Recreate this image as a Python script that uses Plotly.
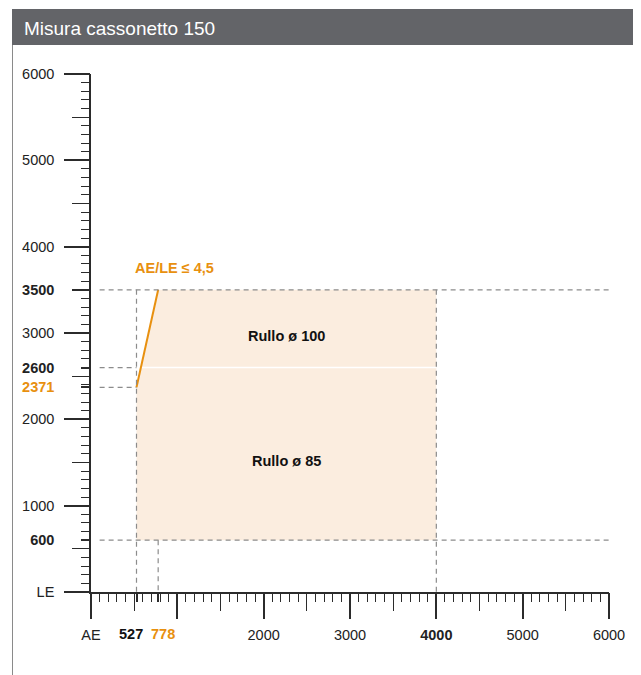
import plotly.graph_objects as go

# ---------------- data ----------------
title_text = "Misura cassonetto 150"
ae_min, ae_max = 527, 4000          # AE range (x)
le_min, le_max = 600, 3500          # LE range (y)
le_split = 2600                      # roller change (ø85 -> ø100)
ratio = 4.5                          # AE/LE limit
le_at_ae_min = 2371                  # LE where the ratio line meets AE min
ae_at_le_max = 778                   # AE where the ratio line meets LE max
axis_max = 6000

x_tick_vals = [0, 2000, 3000, 4000, 5000, 6000]
x_tick_text = ["AE", "2000", "3000", "<b>4000</b>", "5000", "6000"]
y_tick_vals = [0, 600, 1000, 2000, 2371, 2600, 3000, 3500, 4000, 5000, 6000]
y_tick_text = ["LE", "<b>600</b>", "1000", "2000",
               "<b><span style='color:#E8900F'>2371</span></b>", "<b>2600</b>",
               "3000", "<b>3500</b>", "4000", "5000", "6000"]
region_labels = ["Rullo ø 100", "Rullo ø 85"]
region_label_y = [2960, 1520]
ratio_label = "AE/LE ≤ 4,5"

# ---------------- styles ----------------
OFF = 8                      # page body margin in the viewer
W, H = 641 - OFF, 675 - OFF
ORANGE = "#E8900F"
FILL = "#FBEDDF"
DASH = "#8C8C8C"
AX = "#2b2b2b"
FONT = "Liberation Sans, Arial, sans-serif"
FS = 14.5

def px_x(p):
    return (p - OFF) / W

def px_y(p):
    return 1 - (p - OFF) / H

x_dom = [px_x(91), px_x(609)]
y_dom = [px_y(592), px_y(74)]

fig = go.Figure()

# shaded feasible region
ae_split = le_split / ratio
fig.add_trace(go.Scatter(
    x=[ae_min, ae_max, ae_max, ae_at_le_max, ae_min, ae_min],
    y=[le_min, le_min, le_max, le_max, le_at_ae_min, le_min],
    fill="toself", fillcolor=FILL, mode="lines", line=dict(width=0),
    hoverinfo="skip", showlegend=False))
# white separator
fig.add_trace(go.Scatter(
    x=[ae_split, ae_max], y=[le_split, le_split], mode="lines",
    line=dict(color="white", width=1.5), hoverinfo="skip", showlegend=False))
# ratio line
fig.add_trace(go.Scatter(
    x=[ae_min, ae_at_le_max], y=[le_at_ae_min, le_max], mode="lines",
    line=dict(color=ORANGE, width=2), hoverinfo="skip", showlegend=False))

# empty traces to activate overlay tick axes
for i in range(2, 6):
    fig.add_trace(go.Scatter(x=[None], y=[None], xaxis=f"x{i}", yaxis=f"y{i}",
                             showlegend=False, hoverinfo="skip"))

# dashed guides
guide_start = 100
dash_style = dict(color=DASH, width=1.2, dash="5px,4px")
shapes = []
for yv, x1 in [(le_max, axis_max), (le_min, axis_max), (le_split, ae_min), (le_at_ae_min, ae_min)]:
    shapes.append(dict(type="line", xref="x", yref="y", x0=guide_start, x1=x1, y0=yv, y1=yv, line=dash_style, layer="above"))
for xv, y0 in [(ae_min, le_max), (ae_max, le_max), (ae_at_le_max, le_min)]:
    shapes.append(dict(type="line", xref="x", yref="y", x0=xv, x1=xv, y0=y0, y1=0, line=dash_style, layer="above"))

# header and frame
shapes.append(dict(type="rect", xref="paper", yref="paper", x0=px_x(12), x1=1, y0=px_y(45), y1=px_y(9),
                   fillcolor="#636468", line=dict(width=0), layer="below"))
shapes.append(dict(type="line", xref="paper", yref="paper", x0=px_x(12.5), x1=px_x(12.5), y0=px_y(45), y1=0,
                   line=dict(color="#8a8a8a", width=1)))
shapes.append(dict(type="line", xref="paper", yref="paper", x0=px_x(638.5), x1=px_x(638.5), y0=px_y(45), y1=0,
                   line=dict(color="#8a8a8a", width=1)))

annotations = [
    dict(xref="paper", yref="paper", x=px_x(22), y=px_y(28), xanchor="left", yanchor="middle",
         text=title_text, showarrow=False, font=dict(family=FONT, size=19, color="white")),
    dict(xref="x", yref="y", x=(ae_min + ae_max) / 2, y=region_label_y[0], text=f"<b>{region_labels[0]}</b>",
         showarrow=False, font=dict(family=FONT, size=FS, color="#111")),
    dict(xref="x", yref="y", x=(ae_min + ae_max) / 2, y=region_label_y[1], text=f"<b>{region_labels[1]}</b>",
         showarrow=False, font=dict(family=FONT, size=FS, color="#111")),
    dict(xref="x", yref="y", x=967, y=3753, text=f"<b>{ratio_label}</b>",
         showarrow=False, font=dict(family=FONT, size=FS, color=ORANGE)),
    dict(xref="x", yref="y", x=ae_min, y=0, yshift=-42, xshift=-6, text=f"<b>{ae_min}</b>",
         showarrow=False, font=dict(family=FONT, size=FS, color="#111")),
    dict(xref="x", yref="y", x=ae_at_le_max, y=0, yshift=-42, xshift=5, text=f"<b>{ae_at_le_max}</b>",
         showarrow=False, font=dict(family=FONT, size=FS, color=ORANGE)),
]

common = dict(showgrid=False, zeroline=False, fixedrange=True, range=[0, axis_max], automargin=False)
tickfont = dict(family=FONT, size=FS, color="#222")

layout = dict(
    template="none",
    width=W, height=H, margin=dict(l=0, r=0, t=0, b=0, pad=0, autoexpand=False),
    paper_bgcolor="white", plot_bgcolor="rgba(0,0,0,0)",
    font=dict(family=FONT),
    shapes=shapes, annotations=annotations, showlegend=False,
    xaxis=dict(domain=x_dom, anchor="y", showline=True, linecolor=AX, linewidth=1.5,
               tickmode="array", tickvals=x_tick_vals, ticktext=x_tick_text,
               ticks="outside", ticklen=26, tickcolor="rgba(0,0,0,0)", ticklabelstandoff=3,
               tickfont=tickfont, **common),
    yaxis=dict(domain=y_dom, anchor="x", showline=True, linecolor=AX, linewidth=1.5,
               tickmode="array", tickvals=y_tick_vals, ticktext=y_tick_text,
               ticks="outside", ticklen=26, tickcolor="rgba(0,0,0,0)", ticklabelstandoff=6,
               tickfont=tickfont, **common),
    # major 1000 + minor 100
    xaxis2=dict(overlaying="x", anchor="y", side="bottom", showticklabels=False,
                tickmode="linear", tick0=0, dtick=1000, ticks="outside", ticklen=26, tickwidth=1.5, tickcolor=AX,
                minor=dict(tickmode="linear", tick0=0, dtick=100, ticks="outside", ticklen=9, tickwidth=1.2, tickcolor=AX),
                **common),
    yaxis2=dict(overlaying="y", anchor="x", side="left", showticklabels=False,
                tickmode="linear", tick0=0, dtick=1000, ticks="outside", ticklen=26, tickwidth=1.5, tickcolor=AX,
                minor=dict(tickmode="linear", tick0=0, dtick=100, ticks="outside", ticklen=9, tickwidth=1.2, tickcolor=AX),
                **common),
    # 500 ticks
    xaxis3=dict(overlaying="x", anchor="y", side="bottom", showticklabels=False,
                tickmode="linear", tick0=500, dtick=1000, ticks="outside", ticklen=18, tickwidth=1.3, tickcolor=AX,
                **common),
    yaxis3=dict(overlaying="y", anchor="x", side="left", showticklabels=False,
                tickmode="linear", tick0=500, dtick=1000, ticks="outside", ticklen=18, tickwidth=1.3, tickcolor=AX,
                **common),
    # highlighted values
    xaxis4=dict(overlaying="x", anchor="y", side="bottom", showticklabels=False,
                tickmode="array", tickvals=[ae_min, ae_at_le_max], ticks="outside", ticklen=9, tickwidth=2.4, tickcolor=AX,
                **common),
    yaxis4=dict(overlaying="y", anchor="x", side="left", showticklabels=False,
                tickmode="array", tickvals=[le_min, le_at_ae_min, le_split], ticks="outside", ticklen=9, tickwidth=2.4, tickcolor=AX,
                **common),
    xaxis5=dict(overlaying="x", anchor="y", side="bottom", showticklabels=False, visible=False, **common),
    yaxis5=dict(overlaying="y", anchor="x", side="left", showticklabels=False,
                tickmode="array", tickvals=[le_max], ticks="outside", ticklen=18, tickwidth=2.4, tickcolor=AX,
                **common),
)
fig.update_layout(**layout)
fig.write_html("out.html")
